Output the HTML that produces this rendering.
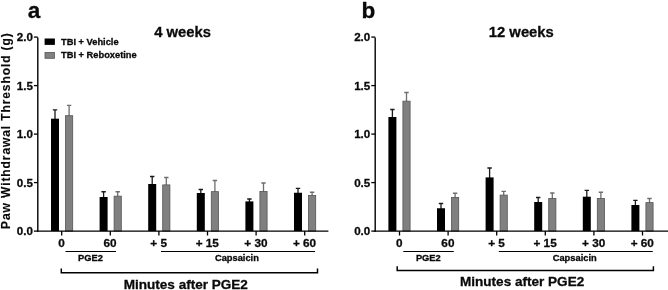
<!DOCTYPE html>
<html><head><meta charset="utf-8"><title>Figure</title>
<style>
html,body{margin:0;padding:0;background:#fff;}
body{width:668px;height:290px;overflow:hidden;}
svg{display:block;will-change:transform;}
text{font-family:"Liberation Sans",sans-serif;font-weight:bold;fill:#0a0a0a;stroke:#0a0a0a;stroke-width:0.3px;}
</style></head><body>
<svg width="668" height="290" viewBox="0 0 668 290">
<rect width="668" height="290" fill="#fff"/>
<text x="27.80" y="18.2" font-size="22.5">a</text>
<text x="182.60" y="36.8" font-size="14.8" text-anchor="middle">4 weeks</text>
<path d="M55.00 119.70V109.80M52.80 109.80H57.20" stroke="#1a1a1a" stroke-width="1.3" fill="none"/>
<rect x="51.00" y="118.70" width="8" height="112.40" fill="#000"/>
<path d="M69.10 116.30V105.40M66.90 105.40H71.30" stroke="#6e6e6e" stroke-width="1.3" fill="none"/>
<rect x="65.50" y="115.70" width="7.2" height="115.40" fill="#808080" stroke="#555" stroke-width="0.8"/>
<path d="M61.70 231.10V235.50" stroke="#000" stroke-width="1.3"/>
<text x="61.50" y="246.9" font-size="11.75" text-anchor="middle">0</text>
<path d="M103.60 198.00V191.75M101.40 191.75H105.80" stroke="#1a1a1a" stroke-width="1.3" fill="none"/>
<rect x="99.60" y="197.00" width="8" height="34.10" fill="#000"/>
<path d="M117.70 196.75V191.75M115.50 191.75H119.90" stroke="#6e6e6e" stroke-width="1.3" fill="none"/>
<rect x="114.10" y="196.15" width="7.2" height="34.95" fill="#808080" stroke="#555" stroke-width="0.8"/>
<path d="M110.30 231.10V235.50" stroke="#000" stroke-width="1.3"/>
<text x="110.10" y="246.9" font-size="11.75" text-anchor="middle">60</text>
<path d="M152.20 185.00V176.50M150.00 176.50H154.40" stroke="#1a1a1a" stroke-width="1.3" fill="none"/>
<rect x="148.20" y="184.00" width="8" height="47.10" fill="#000"/>
<path d="M166.30 185.50V177.50M164.10 177.50H168.50" stroke="#6e6e6e" stroke-width="1.3" fill="none"/>
<rect x="162.70" y="184.90" width="7.2" height="46.20" fill="#808080" stroke="#555" stroke-width="0.8"/>
<path d="M158.90 231.10V235.50" stroke="#000" stroke-width="1.3"/>
<text x="158.70" y="246.9" font-size="11.75" text-anchor="middle">+ 5</text>
<path d="M200.80 194.00V189.50M198.60 189.50H203.00" stroke="#1a1a1a" stroke-width="1.3" fill="none"/>
<rect x="196.80" y="193.00" width="8" height="38.10" fill="#000"/>
<path d="M214.90 192.25V180.50M212.70 180.50H217.10" stroke="#6e6e6e" stroke-width="1.3" fill="none"/>
<rect x="211.30" y="191.65" width="7.2" height="39.45" fill="#808080" stroke="#555" stroke-width="0.8"/>
<path d="M207.50 231.10V235.50" stroke="#000" stroke-width="1.3"/>
<text x="207.30" y="246.9" font-size="11.75" text-anchor="middle">+ 15</text>
<path d="M249.40 202.40V199.00M247.20 199.00H251.60" stroke="#1a1a1a" stroke-width="1.3" fill="none"/>
<rect x="245.40" y="201.40" width="8" height="29.70" fill="#000"/>
<path d="M263.50 192.00V183.00M261.30 183.00H265.70" stroke="#6e6e6e" stroke-width="1.3" fill="none"/>
<rect x="259.90" y="191.40" width="7.2" height="39.70" fill="#808080" stroke="#555" stroke-width="0.8"/>
<path d="M256.10 231.10V235.50" stroke="#000" stroke-width="1.3"/>
<text x="255.90" y="246.9" font-size="11.75" text-anchor="middle">+ 30</text>
<path d="M298.00 193.75V188.30M295.80 188.30H300.20" stroke="#1a1a1a" stroke-width="1.3" fill="none"/>
<rect x="294.00" y="192.75" width="8" height="38.35" fill="#000"/>
<path d="M312.10 196.00V192.25M309.90 192.25H314.30" stroke="#6e6e6e" stroke-width="1.3" fill="none"/>
<rect x="308.50" y="195.40" width="7.2" height="35.70" fill="#808080" stroke="#555" stroke-width="0.8"/>
<path d="M304.70 231.10V235.50" stroke="#000" stroke-width="1.3"/>
<text x="304.50" y="246.9" font-size="11.75" text-anchor="middle">+ 60</text>
<path d="M37.80 37.4V231.80" stroke="#000" stroke-width="1.4" fill="none"/>
<path d="M37.10 231.10H328.40" stroke="#000" stroke-width="1.4" fill="none"/>
<path d="M33.90 231.10H37.80" stroke="#000" stroke-width="1.3"/>
<text x="32.85" y="235.45" font-size="11.6" text-anchor="end">0.0</text>
<path d="M33.90 182.60H37.80" stroke="#000" stroke-width="1.3"/>
<text x="32.85" y="186.95" font-size="11.6" text-anchor="end">0.5</text>
<path d="M33.90 134.10H37.80" stroke="#000" stroke-width="1.3"/>
<text x="32.85" y="138.45" font-size="11.6" text-anchor="end">1.0</text>
<path d="M33.90 85.60H37.80" stroke="#000" stroke-width="1.3"/>
<text x="32.85" y="89.95" font-size="11.6" text-anchor="end">1.5</text>
<path d="M33.90 37.10H37.80" stroke="#000" stroke-width="1.3"/>
<text x="32.85" y="41.45" font-size="11.6" text-anchor="end">2.0</text>
<path d="M65.50 251.5H116.00" stroke="#000" stroke-width="1"/>
<text x="90.50" y="261.2" font-size="9.3" text-anchor="middle">PGE2</text>
<path d="M161.00 251.5H315.00" stroke="#000" stroke-width="1"/>
<text x="236.90" y="261.2" font-size="9.3" text-anchor="middle">Capsaicin</text>
<path d="M61.30 268.40V272.70H317.50V268.40" stroke="#000" stroke-width="1.5" fill="none"/>
<text x="185.80" y="288.80" font-size="13.55" text-anchor="middle">Minutes after PGE2</text>
<text x="361.50" y="18.2" font-size="22.5">b</text>
<text x="521.30" y="36.8" font-size="14.8" text-anchor="middle">12 weeks</text>
<path d="M392.40 118.00V109.50M390.20 109.50H394.60" stroke="#1a1a1a" stroke-width="1.3" fill="none"/>
<rect x="388.40" y="117.00" width="8" height="114.10" fill="#000"/>
<path d="M406.50 101.75V92.50M404.30 92.50H408.70" stroke="#6e6e6e" stroke-width="1.3" fill="none"/>
<rect x="402.90" y="101.15" width="7.2" height="129.95" fill="#808080" stroke="#555" stroke-width="0.8"/>
<path d="M399.50 231.10V235.50" stroke="#000" stroke-width="1.3"/>
<text x="399.30" y="246.9" font-size="11.75" text-anchor="middle">0</text>
<path d="M441.00 209.25V203.50M438.80 203.50H443.20" stroke="#1a1a1a" stroke-width="1.3" fill="none"/>
<rect x="437.00" y="208.25" width="8" height="22.85" fill="#000"/>
<path d="M455.10 198.00V193.25M452.90 193.25H457.30" stroke="#6e6e6e" stroke-width="1.3" fill="none"/>
<rect x="451.50" y="197.40" width="7.2" height="33.70" fill="#808080" stroke="#555" stroke-width="0.8"/>
<path d="M448.10 231.10V235.50" stroke="#000" stroke-width="1.3"/>
<text x="447.90" y="246.9" font-size="11.75" text-anchor="middle">60</text>
<path d="M489.60 178.40V168.00M487.40 168.00H491.80" stroke="#1a1a1a" stroke-width="1.3" fill="none"/>
<rect x="485.60" y="177.40" width="8" height="53.70" fill="#000"/>
<path d="M503.70 195.70V191.30M501.50 191.30H505.90" stroke="#6e6e6e" stroke-width="1.3" fill="none"/>
<rect x="500.10" y="195.10" width="7.2" height="36.00" fill="#808080" stroke="#555" stroke-width="0.8"/>
<path d="M496.70 231.10V235.50" stroke="#000" stroke-width="1.3"/>
<text x="496.50" y="246.9" font-size="11.75" text-anchor="middle">+ 5</text>
<path d="M538.20 203.00V197.50M536.00 197.50H540.40" stroke="#1a1a1a" stroke-width="1.3" fill="none"/>
<rect x="534.20" y="202.00" width="8" height="29.10" fill="#000"/>
<path d="M552.30 199.00V193.00M550.10 193.00H554.50" stroke="#6e6e6e" stroke-width="1.3" fill="none"/>
<rect x="548.70" y="198.40" width="7.2" height="32.70" fill="#808080" stroke="#555" stroke-width="0.8"/>
<path d="M545.30 231.10V235.50" stroke="#000" stroke-width="1.3"/>
<text x="545.10" y="246.9" font-size="11.75" text-anchor="middle">+ 15</text>
<path d="M586.80 197.70V190.30M584.60 190.30H589.00" stroke="#1a1a1a" stroke-width="1.3" fill="none"/>
<rect x="582.80" y="196.70" width="8" height="34.40" fill="#000"/>
<path d="M600.90 199.00V192.25M598.70 192.25H603.10" stroke="#6e6e6e" stroke-width="1.3" fill="none"/>
<rect x="597.30" y="198.40" width="7.2" height="32.70" fill="#808080" stroke="#555" stroke-width="0.8"/>
<path d="M593.90 231.10V235.50" stroke="#000" stroke-width="1.3"/>
<text x="593.70" y="246.9" font-size="11.75" text-anchor="middle">+ 30</text>
<path d="M635.40 206.00V200.40M633.20 200.40H637.60" stroke="#1a1a1a" stroke-width="1.3" fill="none"/>
<rect x="631.40" y="205.00" width="8" height="26.10" fill="#000"/>
<path d="M649.50 203.20V198.50M647.30 198.50H651.70" stroke="#6e6e6e" stroke-width="1.3" fill="none"/>
<rect x="645.90" y="202.60" width="7.2" height="28.50" fill="#808080" stroke="#555" stroke-width="0.8"/>
<path d="M642.50 231.10V235.50" stroke="#000" stroke-width="1.3"/>
<text x="642.30" y="246.9" font-size="11.75" text-anchor="middle">+ 60</text>
<path d="M375.20 37.4V231.80" stroke="#000" stroke-width="1.4" fill="none"/>
<path d="M374.50 231.10H668.00" stroke="#000" stroke-width="1.4" fill="none"/>
<path d="M371.30 231.10H375.20" stroke="#000" stroke-width="1.3"/>
<text x="370.25" y="235.45" font-size="11.6" text-anchor="end">0.0</text>
<path d="M371.30 182.60H375.20" stroke="#000" stroke-width="1.3"/>
<text x="370.25" y="186.95" font-size="11.6" text-anchor="end">0.5</text>
<path d="M371.30 134.10H375.20" stroke="#000" stroke-width="1.3"/>
<text x="370.25" y="138.45" font-size="11.6" text-anchor="end">1.0</text>
<path d="M371.30 85.60H375.20" stroke="#000" stroke-width="1.3"/>
<text x="370.25" y="89.95" font-size="11.6" text-anchor="end">1.5</text>
<path d="M371.30 37.10H375.20" stroke="#000" stroke-width="1.3"/>
<text x="370.25" y="41.45" font-size="11.6" text-anchor="end">2.0</text>
<path d="M403.30 251.5H453.80" stroke="#000" stroke-width="1"/>
<text x="428.30" y="261.2" font-size="9.3" text-anchor="middle">PGE2</text>
<path d="M498.80 251.5H652.80" stroke="#000" stroke-width="1"/>
<text x="574.70" y="261.2" font-size="9.3" text-anchor="middle">Capsaicin</text>
<path d="M397.20 266.20V270.50H653.40V266.20" stroke="#000" stroke-width="1.5" fill="none"/>
<text x="522.10" y="286.20" font-size="13.55" text-anchor="middle">Minutes after PGE2</text>
<text transform="translate(9.9 228.9) rotate(-90)" font-size="12.05" letter-spacing="0.88" style="stroke-width:0.15px">Paw Withdrawal Threshold (g)</text>
<rect x="44.6" y="38.5" width="10.3" height="6.4" fill="#000"/>
<rect x="45.0" y="52.4" width="9.5" height="5.9" fill="#808080" stroke="#555" stroke-width="0.8"/>
<text x="61" y="45.3" font-size="9.3">TBI + Vehicle</text>
<text x="61" y="58.3" font-size="9.3">TBI + Reboxetine</text>
</svg>
</body></html>
